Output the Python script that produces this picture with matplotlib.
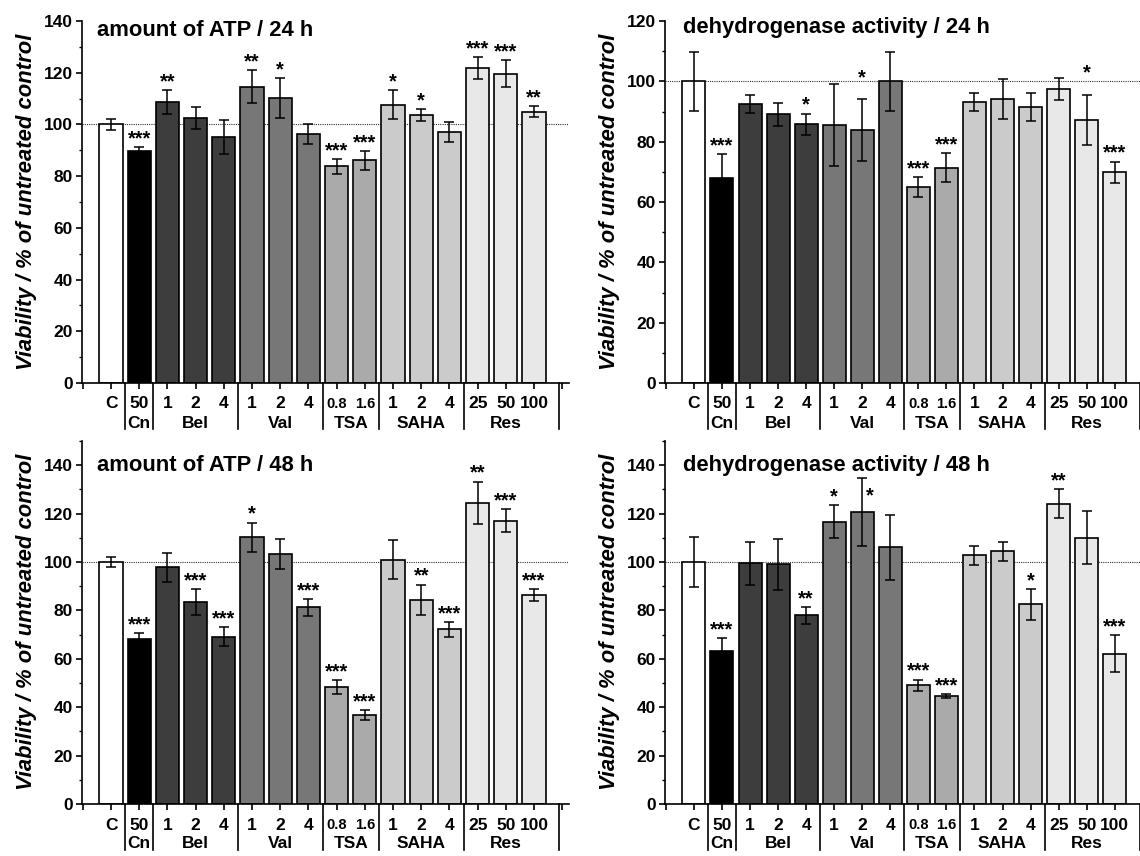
import matplotlib
matplotlib.use("Agg")
import matplotlib.pyplot as plt
import matplotlib.transforms as mtransforms
import numpy as np

plt.rcParams['font.family'] = ['Liberation Sans', 'DejaVu Sans']
plt.rcParams['font.weight'] = 'bold'

# ---------------- data ----------------
dose_labels = ["C", "50", "1", "2", "4", "1", "2", "4", "0.8", "1.6",
               "1", "2", "4", "25", "50", "100"]
group_names = ["Cn", "Bel", "Val", "TSA", "SAHA", "Res"]
group_name_pos = [1, 3, 6, 8.5, 11, 14]
group_separators = [0.5, 1.5, 4.5, 7.5, 9.5, 12.5, 15.9]
bar_colors = ["#ffffff", "#000000", "#3d3d3d", "#3d3d3d", "#3d3d3d",
              "#777777", "#777777", "#777777", "#aaaaaa", "#aaaaaa",
              "#cbcbcb", "#cbcbcb", "#cbcbcb", "#e8e8e8", "#e8e8e8", "#e8e8e8"]

atp24_mean = [100, 89.7, 108.7, 102.6, 95.2, 114.5, 110.2, 96.3, 83.8, 86.1,
              107.7, 103.7, 97.2, 121.8, 119.6, 104.9]
atp24_err = [2.0, 1.5, 4.7, 4.3, 6.7, 6.4, 7.8, 3.9, 2.8, 3.6,
             5.5, 2.3, 3.9, 4.4, 5.3, 2.2]
atp24_sig = ["", "***", "**", "", "", "**", "*", "", "***", "***",
             "*", "*", "", "***", "***", "**"]

dh24_mean = [100, 67.8, 92.5, 89.1, 85.8, 85.5, 83.9, 100, 65.0, 71.4,
             93.2, 94.2, 91.5, 97.5, 87.2, 69.8]
dh24_err = [9.8, 8.0, 3.1, 3.8, 3.5, 13.5, 10.3, 9.8, 3.2, 4.8,
            3.0, 6.6, 4.6, 3.7, 8.2, 3.6]
dh24_sig = ["", "***", "", "", "*", "", "*", "", "***", "***",
            "", "", "", "", "*", "***"]

atp48_mean = [100, 68.3, 97.8, 83.4, 69.2, 110.2, 103.3, 81.2, 48.4, 36.7,
              100.9, 84.5, 72.2, 124.4, 117.0, 86.3]
atp48_err = [1.9, 2.3, 6.0, 5.5, 3.8, 6.1, 6.1, 3.5, 2.8, 2.0,
             8.1, 6.2, 3.1, 8.8, 4.7, 2.4]
atp48_sig = ["", "***", "", "***", "***", "*", "", "***", "***", "***",
             "", "**", "***", "**", "***", "***"]

dh48_mean = [100, 63.4, 99.4, 99.1, 77.9, 116.7, 120.7, 106.0, 49.1, 44.6,
             102.7, 104.5, 82.5, 124.0, 110.1, 62.1]
dh48_err = [10.5, 5.2, 8.7, 10.6, 3.4, 6.9, 14.0, 13.4, 2.3, 0.7,
            3.8, 3.9, 6.3, 6.0, 10.8, 7.7]
dh48_sig = ["", "***", "", "", "**", "*", "*", "", "***", "***",
            "", "", "*", "**", "", "***"]

panels = [
    dict(title="amount of ATP / 24 h", mean=atp24_mean, err=atp24_err, sig=atp24_sig,
         ymax=140, ystep=20, box=(82, 569, 21, 383), xlim=(-1.03, 16.24)),
    dict(title="dehydrogenase activity / 24 h", mean=dh24_mean, err=dh24_err, sig=dh24_sig,
         ymax=120, ystep=20, box=(665, 1140, 21, 383), xlim=(-1.03, 15.9)),
    dict(title="amount of ATP / 48 h", mean=atp48_mean, err=atp48_err, sig=atp48_sig,
         ymax=150, ystep=20, box=(82, 569, 441, 804), xlim=(-1.03, 16.24)),
    dict(title="dehydrogenase activity / 48 h", mean=dh48_mean, err=dh48_err, sig=dh48_sig,
         ymax=150, ystep=20, box=(665, 1140, 441, 804), xlim=(-1.03, 15.9)),
]
title_offsets_px = [(15, 9), (18, 7), (15, 24), (18, 24)]
ylabel_pos_px = [(27, 202), (610, 202), (27, 622), (610, 622)]
# layout tweaks for a few significance marks (pixel shifts: dx, dy up)
star_shift_px = {(1, 6): (0, 13), (1, 14): (0, 14), (3, 6): (8, -26)}

W, H = 1140, 856
fig = plt.figure(figsize=(W / 100, H / 100), dpi=100)
PX = 72 / 100  # points per pixel

for pi, (p, (tx, ty), (lx, ly)) in enumerate(zip(panels, title_offsets_px, ylabel_pos_px)):
    l, r, t, b = p["box"]
    ax = fig.add_axes([l / W, 1 - b / H, (r - l) / W, (b - t) / H])
    x = np.arange(len(dose_labels))
    ax.bar(x, p["mean"], width=0.82, color=bar_colors, edgecolor="black",
           linewidth=1.2, zorder=2)
    ax.errorbar(x, p["mean"], yerr=p["err"], fmt="none", ecolor="black",
                elinewidth=1.1, capsize=3.4, capthick=1.1, zorder=3)
    ax.axhline(100, color="#333333", linewidth=0.8, linestyle=(0, (1, 1)), zorder=1)
    ax.set_xlim(*p["xlim"])
    ax.set_ylim(0, p["ymax"])
    ax.spines["top"].set_visible(False)
    ax.spines["right"].set_visible(False)
    ax.spines["left"].set_linewidth(1.2)
    ax.spines["bottom"].set_linewidth(1.2)
    ax.set_yticks(np.arange(0, p["ymax"] + 1, p["ystep"]))
    ax.set_yticks(np.arange(10, p["ymax"] + 1, 20), minor=True)
    ax.tick_params(axis="y", which="major", length=4, width=1.2, pad=2.5,
                   labelsize=12.5, direction="out")
    ax.tick_params(axis="y", which="minor", length=2.5, width=1.0, direction="out")
    for lab in ax.get_yticklabels():
        lab.set_fontweight("bold")
    xt = [v for v in range(-1, 17) if p["xlim"][0] <= v <= p["xlim"][1]]
    ax.set_xticks(xt)
    ax.set_xticklabels([""] * len(xt))
    ax.tick_params(axis="x", length=4.5, width=1.2, direction="out")

    trans = mtransforms.blended_transform_factory(ax.transData, ax.transAxes)
    for xi, lab in zip(x, dose_labels):
        fs = 10.5 if "." in lab else 12.5
        ax.annotate(lab, (xi, 0), xycoords=trans, xytext=(0, -21 * PX),
                    textcoords="offset points", ha="center", va="center",
                    fontsize=fs, fontweight="bold")
    for gp, gn in zip(group_name_pos, group_names):
        ax.annotate(gn, (gp, 0), xycoords=trans, xytext=(0, -40 * PX),
                    textcoords="offset points", ha="center", va="center",
                    fontsize=12.5, fontweight="bold")
    sep_h = 46 / (b - t)
    for s in group_separators:
        ax.plot([s, s], [0, -sep_h], transform=trans, color="black",
                linewidth=1.2, clip_on=False)

    for xi, m, e, s in zip(x, p["mean"], p["err"], p["sig"]):
        if s:
            dx, dy = star_shift_px.get((pi, int(xi)), (0, 0))
            ax.annotate(s, (xi, m + e), xytext=(dx * PX, 2.0 + dy * PX),
                        textcoords="offset points", ha="center", va="baseline",
                        fontsize=14.5, fontweight="bold", zorder=4)

    ax.annotate(p["title"], (0, 1), xycoords="axes fraction",
                xytext=(tx * PX, -ty * PX), textcoords="offset points",
                ha="left", va="center", fontsize=15.8, fontweight="bold")

    fig.text(lx / W, 1 - ly / H, "Viability / % of untreated control",
             rotation=90, ha="center", va="center", fontsize=15.8,
             fontweight="bold", fontstyle="italic")

fig.savefig("out.png", dpi=100)
